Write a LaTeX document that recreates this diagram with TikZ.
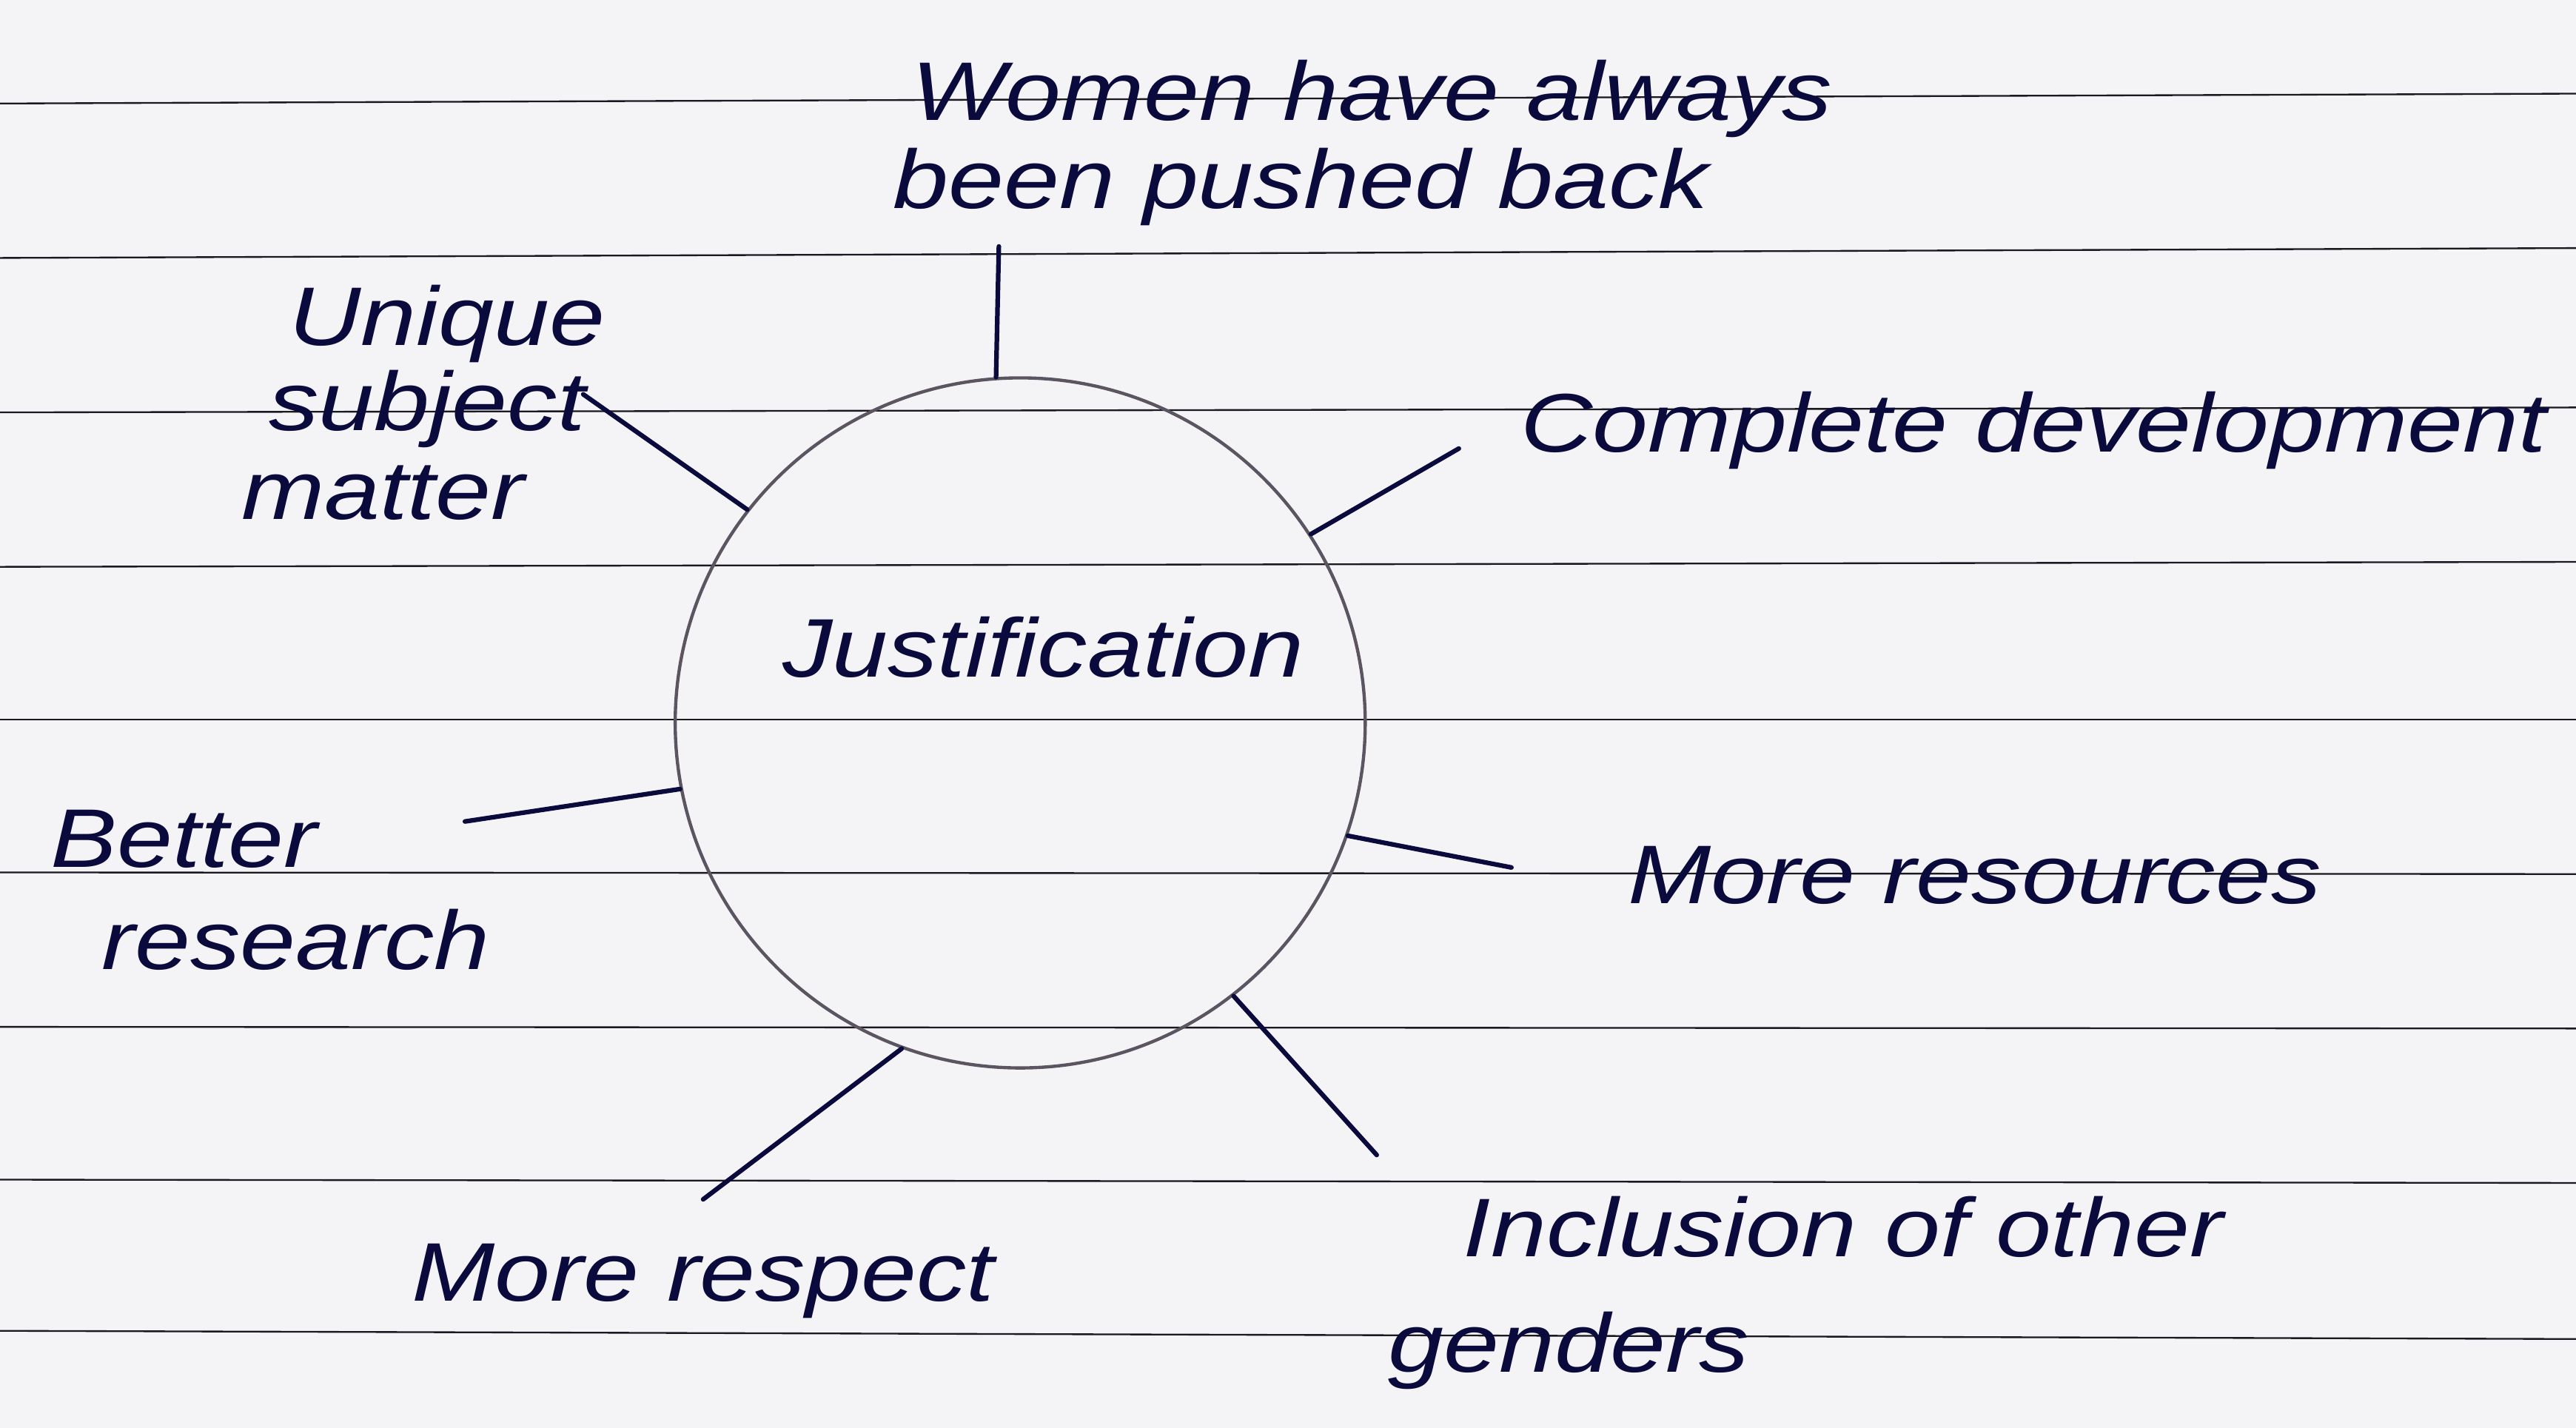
\documentclass[tikz,border=0pt]{standalone}
\usepackage{fontspec}
\setmainfont[FakeStretch=1.2]{Liberation Sans}
\definecolor{paper}{HTML}{F4F3F6}
\definecolor{ink}{HTML}{0B0A3C}
\definecolor{rule}{HTML}{1A1820}
\definecolor{pencil}{HTML}{5A5560}
\begin{document}
\begin{tikzpicture}[x=0.25mm,y=-0.25mm,
  ruled/.style={draw=rule,line width=0.75pt},
  hand/.style={text=ink,font=\fontsize{36}{40}\selectfont\itshape,inner sep=0pt,anchor=base},
  link/.style={draw=ink,line width=2pt,line cap=round},
  hub/.style={circle,draw=pencil,line width=1.4pt,minimum size=105mm,inner sep=0pt}]
\useasboundingbox (0,0) rectangle (1568,869);
\fill[paper] (0,0) rectangle (1568,869);
% ruled lines
\foreach \a/\b in {63/57,157/151,251/248,345/342,438/438,531/532,625/626,718/720,810/815}
  \draw[ruled] (0,\a) -- (1568,\b);
% hub
\node[hub] (j) at (621,440) {};
\node[hand] (jt) at (635,412) {Justification};
% labels
\node[hand] (w1) at (835,73) {Women have always};
\node[hand] (w2) at (792,127) {been pushed back};
\node[hand] (u1) at (272,210) {Unique};
\node[hand] (u2) at (260,262) {subject};
\node[hand] (u3) at (233,316) {matter};
\node[hand] (cd) at (1238,275) {Complete development};
\node[hand] (b1) at (112,528) {Better};
\node[hand] (b2) at (180,590) {research};
\node[hand] (mr) at (1202,550) {More resources};
\node[hand] (ms) at (428,792) {More respect};
\node[hand] (i1) at (1122,765) {Inclusion of other};
\node[hand] (i2) at (955,835) {genders};
% connector ends
\coordinate (ew) at (608,150);
\coordinate (eu) at (355,240);
\coordinate (ec) at (888,273);
\coordinate (eb) at (283,500);
\coordinate (er) at (920,528);
\coordinate (ei) at (838,703);
\coordinate (es) at (428,730);
% connectors
\draw[link] (ew) -- (j.94);
\draw[link] (eu) -- (j.142);
\draw[link] (ec) -- (j.33);
\draw[link] (eb) -- (j.191);
\draw[link] (j.-19) -- (er);
\draw[link] (j.-52) -- (ei);
\draw[link] (j.-110) -- (es);
\end{tikzpicture}
\end{document}
